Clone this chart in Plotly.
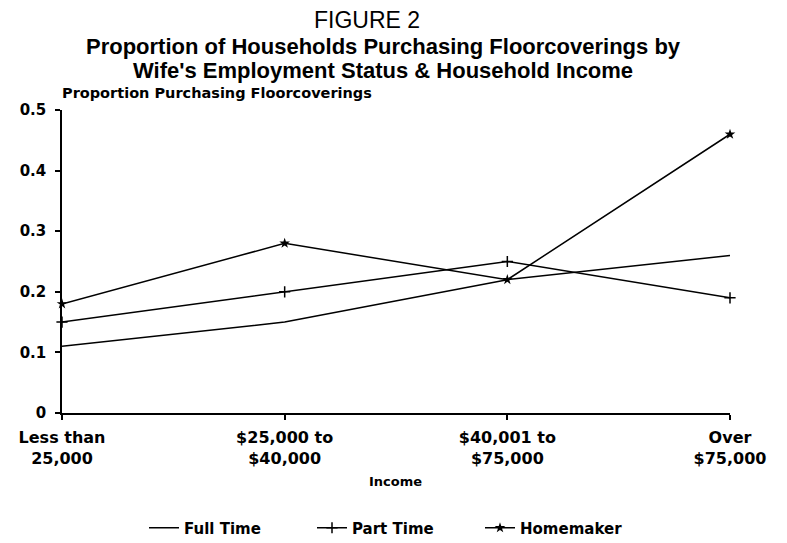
import plotly.graph_objects as go

# ---- data ----
categories = ["Less than<br>25,000", "$25,000 to<br>$40,000", "$40,001 to<br>$75,000", "Over<br>$75,000"]
cat_pos = [0, 1, 2, 3]
full_time = [0.11, 0.15, 0.22, 0.26]
part_time = [0.15, 0.20, 0.25, 0.19]
homemaker = [0.18, 0.28, 0.22, 0.46]
y_ticks = [0, 0.1, 0.2, 0.3, 0.4, 0.5]
y_tick_labels = ["0", "0.1", "0.2", "0.3", "0.4", "0.5"]

# page has an 8px body margin, so the figure is shrunk/shifted by it
OFF = 8
W, H = 787 - OFF, 543 - OFF
L, R, T, B = 62 - OFF, 57, 110 - OFF, 130
PW, PH = W - L - R, H - T - B

def px_x(x):
    return (x - OFF - L) / PW

def px_y(y):
    return (H - B - (y - OFF)) / PH

TICKF = dict(family="DejaVu Sans", size=16, color="black", weight="bold")
ARIAL = "Liberation Sans, Arial, sans-serif"

fig = go.Figure()
fig.add_trace(go.Scatter(x=cat_pos, y=full_time, name="Full Time", mode="lines",
                         line=dict(color="black", width=1.5), cliponaxis=False))
fig.add_trace(go.Scatter(x=cat_pos, y=part_time, name="Part Time", mode="lines+markers",
                         line=dict(color="black", width=1.5),
                         marker=dict(symbol="cross-thin", size=8, color="black",
                                     line=dict(color="black", width=1.5)),
                         cliponaxis=False))
fig.add_trace(go.Scatter(x=cat_pos, y=homemaker, name="Homemaker", mode="lines+markers",
                         line=dict(color="black", width=1.5),
                         marker=dict(symbol="star", size=8, color="black"),
                         cliponaxis=False))

fig.update_layout(
    width=W, height=H,
    margin=dict(l=L, r=R, t=T, b=B, autoexpand=False),
    paper_bgcolor="white", plot_bgcolor="white",
    showlegend=True,
    legend=dict(orientation="h", x=px_x(144), xanchor="left", y=px_y(528), yanchor="middle",
                font=dict(family="DejaVu Sans", size=15, color="black", weight="bold"),
                entrywidth=123, entrywidthmode="pixels", bgcolor="rgba(0,0,0,0)"),
    xaxis=dict(range=[0, 3], tickvals=cat_pos, ticktext=categories, automargin=False,
               showline=True, linecolor="black", linewidth=1.5,
               ticks="outside", ticklen=5, tickcolor="black", tickwidth=1.5,
               ticklabelstandoff=4,
               showgrid=False, zeroline=False, tickfont=TICKF),
    yaxis=dict(range=[0, 0.5], tickvals=y_ticks, ticktext=y_tick_labels, automargin=False,
               showline=True, linecolor="black", linewidth=1.5,
               ticks="outside", ticklen=5, tickcolor="black", tickwidth=1.5,
               ticklabelstandoff=6,
               showgrid=False, zeroline=False,
               tickfont=dict(family="DejaVu Sans", size=15, color="black", weight="bold")),
    annotations=[
        dict(text="FIGURE 2", x=px_x(367), y=px_y(20), xref="paper", yref="paper",
             showarrow=False, xanchor="center", yanchor="middle",
             font=dict(family=ARIAL, size=23, color="black")),
        dict(text="<b>Proportion of Households Purchasing Floorcoverings by</b>", x=px_x(383), y=px_y(46),
             xref="paper", yref="paper", showarrow=False, xanchor="center", yanchor="middle",
             font=dict(family=ARIAL, size=22, color="black")),
        dict(text="<b>Wife's Employment Status & Household Income</b>", x=px_x(383), y=px_y(70.5),
             xref="paper", yref="paper", showarrow=False, xanchor="center", yanchor="middle",
             font=dict(family=ARIAL, size=22, color="black")),
        dict(text="<b>Proportion Purchasing Floorcoverings</b>", x=px_x(60), y=px_y(93),
             xref="paper", yref="paper", showarrow=False, xanchor="left", yanchor="middle",
             font=dict(family="DejaVu Sans", size=14.5, color="black")),
        dict(text="<b>Income</b>", x=px_x(395), y=px_y(481),
             xref="paper", yref="paper", showarrow=False, xanchor="center", yanchor="middle",
             font=dict(family="DejaVu Sans", size=13, color="black")),
    ],
)

fig.write_html("out.html")
